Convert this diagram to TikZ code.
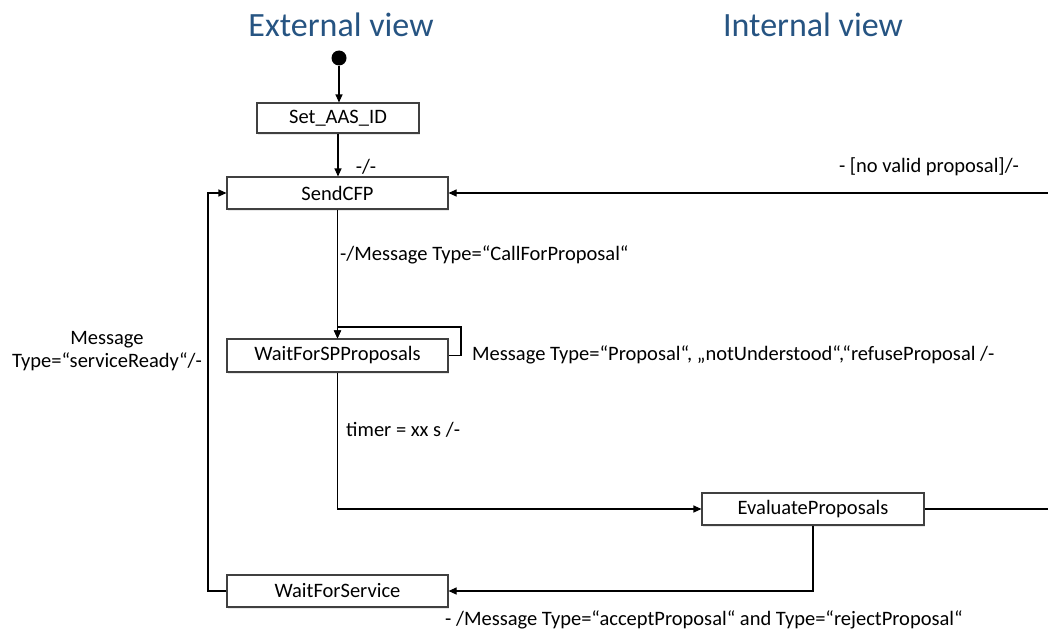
\documentclass[tikz,border=0pt]{standalone}
\usepackage{fontspec}
\setmainfont{Carlito}
\usetikzlibrary{arrows.meta,shadows}
\definecolor{titleblue}{RGB}{38,84,130}
\definecolor{boxline}{RGB}{64,64,64}
\begin{document}
\begin{tikzpicture}[x=1pt,y=-1pt,
  state/.style={draw=boxline, line width=1.1pt, fill=white,
    minimum width=221pt, minimum height=32pt, inner sep=0pt,
    font=\fontsize{20.5}{24}\selectfont,
    drop shadow={shadow xshift=1.2pt, shadow yshift=-1.5pt, opacity=0.18}},
  lbl/.style={font=\fontsize{20.5}{22.5}\selectfont, inner sep=0pt},
  ttl/.style={font=\fontsize{34}{40}\selectfont, text=titleblue, inner sep=0pt},
  conn/.style={line width=1.1pt, -{Triangle[length=8pt,width=7pt]}}]

\useasboundingbox (0,0) rectangle (1048,634);

% view headings
\node[ttl] (extview) at (341,25) {External view};
\node[ttl] (intview) at (813,25) {Internal view};

% states
\node[circle, fill=black, minimum size=15pt, inner sep=0pt] (init) at (339,58) {};
\node[state, minimum width=162pt, minimum height=30pt] (setid) at (338,118) {Set\_AAS\_ID};
\node[state] (sendcfp) at (337.5,193) {SendCFP};
\node[state, minimum height=33pt] (waitsp) at (337.5,355.5) {WaitForSPProposals};
\node[state, minimum width=222pt] (eval) at (813,509) {EvaluateProposals};
\node[state] (waitsvc) at (337.5,591) {WaitForService};

% rails for the loop-back transitions
\coordinate (loopR) at (461,327);
\coordinate (leftrail) at (208,0);
\coordinate (rightrail) at (1060,0);

% transitions
\draw[conn] (init) -- (init |- setid.north);
\draw[conn] (setid) -- (setid |- sendcfp.north);
\draw[conn] (sendcfp) -- (sendcfp |- waitsp.north);
\draw[conn] (waitsp.east) -| (loopR) -| (waitsp.north);
\draw[conn] (waitsp.south) |- (eval.west);
\draw[conn] (eval.south) |- (waitsvc.east);
\draw[conn] (waitsvc.west) -- (waitsvc.west -| leftrail) |- (sendcfp.west);
\draw[conn] (eval.east) -- (eval.east -| rightrail) |- (sendcfp.east);

% transition labels
\node[lbl] (l1) at (366,167) {-/-};
\node[lbl] (l2) at (929,167) {- [no valid proposal]/-};
\node[lbl, anchor=west] (l3) at (340,255) {-/Message Type=“CallForProposal“};
\node[lbl, anchor=west] (l4) at (472,355) {Message Type=“Proposal“, „notUnderstood“,“refuseProposal /-};
\node[lbl, align=center] (l5) at (107,351) {Message\\Type=“serviceReady“/-};
\node[lbl, anchor=west] (l6) at (346,430) {timer = xx s /-};
\node[lbl, anchor=west] (l7) at (445,620) {- /Message Type=“acceptProposal“ and Type=“rejectProposal“};
\end{tikzpicture}
\end{document}
